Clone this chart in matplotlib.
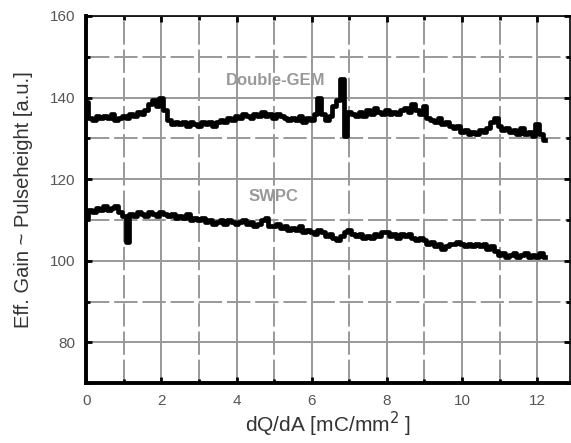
import numpy as np
import matplotlib.pyplot as plt
from matplotlib.ticker import MultipleLocator

plt.rcParams['font.family'] = ['Liberation Sans', 'DejaVu Sans']

# ---------------------------------------------------------------------------
# Data read off the picture (sampled every 0.1 mC/mm^2)
# ---------------------------------------------------------------------------
DQ_STEP = 0.1

double_gem = [
    139, 135, 134.5, 135.5, 135, 135.5, 135, 136, 134.5, 135,
    135.5, 135, 136, 135.5, 136.5, 136, 137, 138.5, 139.5, 138,
    140, 137, 134.5, 133.5, 134, 133.5, 134, 133, 134, 133.5,
    133, 134, 133.5, 134, 133, 134, 134.5, 134, 135, 134.5,
    135.5, 135, 136, 135.5, 135, 136, 135.5, 136.5, 135.5, 136,
    135, 136, 135.5, 135, 134.5, 135, 134.5, 135.5, 134, 135,
    134.5, 136, 140, 136, 134.5, 135.5, 138, 139.5, 144.5, 130.5,
    136.5, 136, 135.5, 136.5, 135.5, 137, 136, 137.5, 136.5, 136,
    137, 136, 136.5, 136, 137, 137.5, 136.5, 138.5, 137, 136,
    138, 135, 134.5, 134, 135, 133.5, 134, 133, 132.5, 133,
    131.5, 132, 131, 131.5, 131, 132, 131.5, 132.5, 134, 135,
    133, 132, 132.5, 131.5, 132, 131, 132.5, 131, 131.5, 130.5,
    133.5, 131, 129.5,
]

swpc = [
    110.5, 112.5, 112, 113, 112.5, 113.5, 112.5, 113, 113.5, 112,
    111, 104.5, 111.5, 111, 112, 111.5, 111, 112, 111.5, 111,
    112, 111.5, 111, 111.5, 110.5, 111, 110.5, 111.5, 110, 110.5,
    110, 110.5, 109.5, 110, 109, 109.5, 110, 109, 110, 109.5,
    109, 109.5, 110, 109, 109.5, 108.5, 109, 110, 110.5, 108.5,
    108.5, 109, 108, 108.5, 107.5, 108, 107.5, 108.5, 107, 107.5,
    107, 106.5, 107.5, 107, 106, 106.5, 105.5, 105, 106, 107,
    107.5, 106.5, 106, 106.5, 105.5, 106, 105.5, 106.5, 106, 107,
    107, 106, 106.5, 105.5, 106.5, 106, 106.5, 105.5, 105, 105.5,
    105, 104, 104.5, 103.5, 104, 103, 103.5, 104, 104, 104.5,
    104, 103.5, 104, 103.5, 104, 103.5, 104, 103, 103.5, 102.5,
    101.5, 102, 101, 101.5, 102, 101, 101.5, 102, 101, 101.5,
    101, 102, 101,
]

x_gem = DQ_STEP * np.arange(len(double_gem))
x_swpc = DQ_STEP * np.arange(len(swpc))

# ---------------------------------------------------------------------------
# Plot
# ---------------------------------------------------------------------------
fig = plt.figure(figsize=(5.71, 4.43), dpi=100)
ax = fig.add_axes([0.151, 0.135, 0.847, 0.829])

ax.plot(x_gem, double_gem, color='black', lw=3.4, drawstyle='steps-mid', zorder=3)
ax.plot(x_swpc, swpc, color='black', lw=3.4, drawstyle='steps-mid', zorder=3)

ax.text(5.05, 144.2, 'Double-GEM', color='#999999', fontsize=12, fontweight='bold',
        ha='center', va='center', zorder=4)
ax.text(4.97, 115.8, 'SWPC', color='#999999', fontsize=12, fontweight='bold',
        ha='center', va='center', zorder=4)

ax.set_xlim(0, 12.87)
ax.set_ylim(70, 160)
ax.xaxis.set_major_locator(MultipleLocator(2))
ax.xaxis.set_minor_locator(MultipleLocator(1))
ax.yaxis.set_major_locator(MultipleLocator(20))
ax.yaxis.set_minor_locator(MultipleLocator(10))

ax.grid(which='major', color='#999999', lw=1.4, ls='-', zorder=1)
ax.grid(which='minor', color='#999999', lw=1.4, ls=(0, (12, 2.5)), zorder=1)

ax.tick_params(which='both', direction='in', top=True, right=True,
               labelsize=11, labelcolor='#555555', pad=8)
ax.tick_params(which='major', length=4, width=2)
ax.tick_params(which='minor', length=3, width=2)

for side in ['left', 'bottom']:
    ax.spines[side].set_linewidth(2.8)
for side in ['top', 'right']:
    ax.spines[side].set_linewidth(1.2)

ax.set_xlabel('dQ/dA [mC/mm$^{2}$ ]', fontsize=15, color='#333333', labelpad=1)
ax.set_ylabel('Eff. Gain ~ Pulseheight [a.u.]', fontsize=14.5, color='#333333', labelpad=12)

fig.savefig('out.png', dpi=100)
